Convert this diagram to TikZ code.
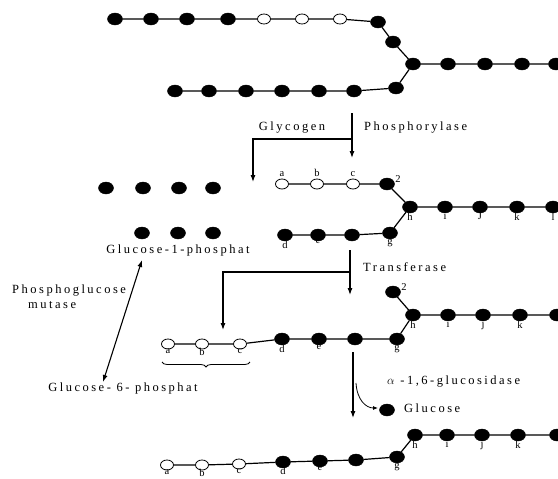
\documentclass[tikz,border=0pt]{standalone}
\usepackage{fontspec}
\setmainfont{Liberation Serif}
\newfontfamily\spaced[LetterSpace=20]{Liberation Serif}
\usetikzlibrary{positioning,arrows.meta,shapes.geometric,decorations.pathreplacing}

\begin{document}
\begin{tikzpicture}[x=1pt,y=-1pt,
 dot/.style={ellipse,draw=black,fill=black,minimum width=15pt,minimum height=12pt,inner sep=0pt},
 hollow/.style={dot,fill=white,minimum width=13pt,minimum height=10pt,line width=0.8pt},
 chain/.style={line width=1.2pt},
 arr/.style={-{Latex[length=7pt,width=5pt]},line width=1.1pt},
 caption/.style={font=\spaced\fontsize{12.5}{15}\selectfont,inner sep=1pt},
 lbl/.style={font=\fontsize{10.5}{11}\selectfont,inner sep=0.5pt}
]
\useasboundingbox (0,0) rectangle (558,479);

% glycogen
\node[dot] (t1) at (115,19) {};
\node[dot] (t2) at (151,19) {};
\node[dot] (t3) at (187,19) {};
\node[dot] (t4) at (228,19) {};
\node[hollow] (t5) at (264,19) {};
\node[hollow] (t6) at (302,19) {};
\node[hollow] (t7) at (340,19) {};
\node[dot] (t8) at (378,22) {};
\node[dot] (t9) at (393,42) {};
\node[dot] (tj) at (413,64) {};
\node[dot] (r1) at (448,64) {};
\node[dot] (r2) at (485,64) {};
\node[dot] (r3) at (522,64) {};
\node[dot] (r4) at (556,64) {};
\node[dot] (b1) at (175,91) {};
\node[dot] (b2) at (209,91) {};
\node[dot] (b3) at (246,91) {};
\node[dot] (b4) at (282,91) {};
\node[dot] (b5) at (319,91) {};
\node[dot] (b6) at (354,91) {};
\node[dot] (b7) at (396,88) {};
\draw[chain] (t1)--(t2)--(t3)--(t4)--(t5)--(t6)--(t7)--(t8)--(t9)--(tj)--(r1)--(r2)--(r3)--(r4);
\draw[chain] (b1)--(b2)--(b3)--(b4)--(b5)--(b6)--(b7)--(tj);

% phosphorylase
\coordinate (p0) at (352,113);
\coordinate (p1) at (352,139);
\coordinate (p2) at (253,139);
\coordinate (p3) at (253,182);
\coordinate (p4) at (352,158);
\draw[arr] (p0)--(p4);
\draw[arr] (p1)--(p2)--(p3);
\node[caption] (glycogen) at (292,128) {Glycogen};
\node[caption,anchor=west] (phos) at (363,128) {Phosphorylase};

\node[hollow,label={[lbl,label distance=1pt]above:a}] (pa) at (282,184) {};
\node[hollow,label={[lbl,label distance=1pt]above:b}] (pb) at (317,184) {};
\node[hollow,label={[lbl,label distance=1pt]above:c}] (pc) at (353,184) {};
\node[dot,label={[lbl,yshift=5pt]right:2}] (p2d) at (387,184) {};
\node[dot,label={[lbl,label distance=-1pt]below:h}] (ph) at (410,207) {};
\node[dot,label={[lbl,label distance=-1pt]below:i}] (pi) at (445,207) {};
\node[dot,label={[lbl,label distance=-1pt]below:J}] (pj) at (480,207) {};
\node[dot,label={[lbl,label distance=-1pt]below:k}] (pk) at (517,207) {};
\node[dot,label={[lbl,label distance=-1pt]below:l}] (pl) at (553,207) {};
\node[dot,label={[lbl,label distance=-1pt]below:d}] (pd) at (285,235) {};
\node[dot,label={[lbl,label distance=-3pt]below:e}] (pe) at (318,235) {};
\node[dot] (pf) at (352,235) {};
\node[dot,label={[lbl,label distance=-1pt]below:g}] (pg) at (390,233) {};
\draw[chain] (pa)--(pb)--(pc)--(p2d)--(ph)--(pi)--(pj)--(pk)--(pl);
\draw[chain] (pd)--(pe)--(pf)--(pg)--(ph);

% free glucose
\node[dot] (f1) at (106,188) {};
\node[dot] (f2) at (143,188) {};
\node[dot] (f3) at (179,188) {};
\node[dot] (f4) at (213,188) {};
\node[dot] (f5) at (142,233) {};
\node[dot] (f6) at (178,233) {};
\node[dot] (f7) at (213,233) {};
\node[caption] (g1p) at (178,250) {Glucose-1-phosphat};
\node[caption,align=left,anchor=north west] (mutase) at (11,284) {Phosphoglucose\\\hspace*{16pt}mutase};
\node[caption] (g6p) at (123,388) {Glucose- 6- phosphat};
\coordinate (m1) at (142,260);
\coordinate (m2) at (103,382);
\draw[arr,{Latex[length=7pt,width=5pt]}-{Latex[length=7pt,width=5pt]}] (m1)--(m2);

% transferase
\coordinate (q0) at (350,250);
\coordinate (q1) at (350,272);
\coordinate (q2) at (223,272);
\coordinate (q3) at (223,330);
\coordinate (q4) at (350,295);
\draw[arr] (q0)--(q4);
\draw[arr] (q1)--(q2)--(q3);
\node[caption,anchor=west] (trans) at (362,267) {Transferase};

\node[hollow,label={[lbl,label distance=-2pt]below:a}] (qa) at (168,344) {};
\node[hollow,label={[lbl,label distance=-2pt]below:b}] (qb) at (202,344) {};
\node[hollow,label={[lbl,label distance=-2pt]below:c}] (qc) at (240,344) {};
\node[dot,label={[lbl,label distance=-1pt]below:d}] (qd) at (282,339) {};
\node[dot,label={[lbl,label distance=-1pt]below:e}] (qe) at (319,339) {};
\node[dot] (qf) at (355,339) {};
\node[dot,label={[lbl,label distance=-1pt]below:g}] (qg) at (397,339) {};
\node[dot,label={[lbl,yshift=5pt]right:2}] (q2d) at (393,292) {};
\node[dot,label={[lbl,label distance=-1pt]below:h}] (qh) at (413,315) {};
\node[dot,label={[lbl,label distance=-1pt]below:i}] (qi) at (448,315) {};
\node[dot,label={[lbl,label distance=-1pt]below:j}] (qj) at (483,315) {};
\node[dot,label={[lbl,label distance=-1pt]below:k}] (qk) at (520,315) {};
\node[dot] (ql) at (557,315) {};
\draw[chain] (qa)--(qb)--(qc)--(qd)--(qe)--(qf)--(qg)--(qh)--(qi)--(qj)--(qk)--(ql);
\draw[chain] (q2d)--(qh);
\draw[decorate,decoration={brace,amplitude=5pt},line width=0.8pt] (250,362)--(162,362);

% glucosidase
\coordinate (s0) at (353,352);
\coordinate (s1) at (353,418);
\coordinate (s2) at (356,383);
\coordinate (s3) at (378,408);
\draw[arr] (s0)--(s1);
\draw[-{Latex[length=5pt,width=4pt]},line width=0.8pt] (s2) .. controls (357,400) and (366,408) .. (s3);
\node[caption,anchor=west] (gluc) at (386,382) {$\alpha$ -1,6-glucosidase};
\node[dot] (gdot) at (387,410) {};
\node[caption,anchor=west] (glabel) at (403,408) {Glucose};

\node[hollow,label={[lbl,label distance=-2pt]below:a}] (ua) at (167,465) {};
\node[hollow,label={[lbl,label distance=-2pt]below:b}] (ub) at (202,465) {};
\node[hollow,label={[lbl,label distance=-2pt]below:c}] (uc) at (239,464) {};
\node[dot,label={[lbl,label distance=-2pt]below:d}] (ud) at (283,462) {};
\node[dot,label={[lbl,label distance=-2pt]below:e}] (ue) at (320,461) {};
\node[dot] (uf) at (356,460) {};
\node[dot,label={[lbl,label distance=-1pt]below:g}] (ug) at (397,457) {};
\node[dot,label={[lbl,label distance=-1pt]below:h}] (uh) at (415,435) {};
\node[dot,label={[lbl,label distance=-1pt]below:i}] (ui) at (447,435) {};
\node[dot,label={[lbl,label distance=-1pt]below:j}] (uj) at (482,435) {};
\node[dot,label={[lbl,label distance=-1pt]below:k}] (uk) at (518,435) {};
\node[dot] (ul) at (557,435) {};
\draw[chain] (ua)--(ub)--(uc)--(ud)--(ue)--(uf)--(ug)--(uh)--(ui)--(uj)--(uk)--(ul);
\end{tikzpicture}
\end{document}
